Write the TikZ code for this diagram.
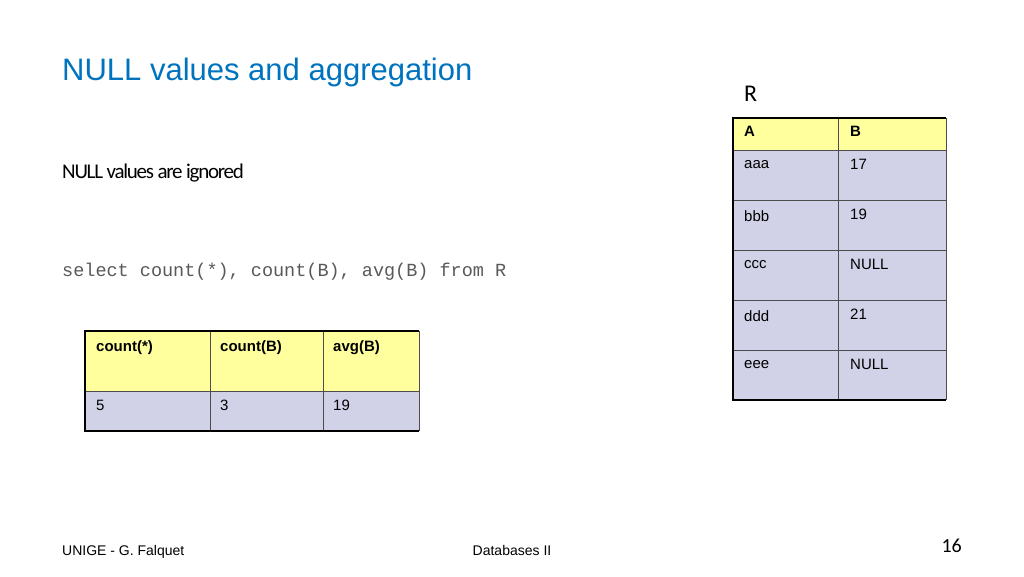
\documentclass[tikz,border=0pt]{standalone}
\usepackage{fontspec}
\setmainfont{Liberation Sans}
\newfontfamily\calfont{Carlito}
\newfontfamily\codefont{Liberation Mono}
\definecolor{TitleClr}{rgb}{0.0,0.45,0.75}
\definecolor{HeadClr}{rgb}{1,1,0.62}
\definecolor{BodyClr}{rgb}{0.82,0.82,0.91}
\definecolor{CodeClr}{rgb}{0.35,0.35,0.35}
\tikzset{
  cell/.style={anchor=north west,inner sep=0pt,font=\fontsize{15}{18}\selectfont},
  headcell/.style={cell,font=\fontsize{15}{18}\selectfont\bfseries},
  grid/.style={draw=black!70,line width=0.8pt},
  frame/.style={draw=black,line width=2pt}
}
\begin{document}
\begin{tikzpicture}[x=1pt,y=-1pt]
\useasboundingbox (0,0) rectangle (1024,576);

\node[anchor=base west,inner sep=0pt,text=TitleClr,font=\fontsize{31}{36}\selectfont] (title) at (62,80) {NULL values and aggregation};
\node[anchor=base west,inner sep=0pt,font=\calfont\fontsize{21}{24}\selectfont\addfontfeatures{LetterSpace=-6}] (txt) at (62,178) {NULL values are ignored};
\node[anchor=base west,inner sep=0pt,text=CodeClr,font=\codefont\fontsize{18.5}{22}\selectfont] (code) at (62,276) {select count(*), count(B), avg(B) from R};

% table R
\node[anchor=base west,inner sep=0pt,font=\calfont\fontsize{24}{28}\selectfont] (rname) at (744,101) {R};
\fill[HeadClr] (733,118) rectangle (946,150);
\fill[BodyClr] (733,150) rectangle (946,400);
\foreach \y in {150,200,250,300,350} \draw[grid] (733,\y) -- (946,\y);
\draw[grid] (838,118) -- (838,400);
\draw[frame] (946,118) -- (733,118) -- (733,400) -- (946,400);
\draw[grid] (946,118) -- (946,400);
\node[headcell] (ha) at (744,126) {A};
\node[headcell] (hb) at (850,126) {B};
\foreach \a/\b [count=\i from 0] in {aaa/17,bbb/19,ccc/NULL,ddd/21,eee/NULL}
{
  \node[cell] (ra\i) at (744,160+50*\i) {\a};
  \node[cell] (rb\i) at (850,159+50*\i) {\b};
}

% result
\fill[HeadClr] (85,331) rectangle (419,391);
\fill[BodyClr] (85,391) rectangle (419,431);
\draw[grid] (85,391) -- (419,391);
\foreach \x in {210,323} \draw[grid] (\x,331) -- (\x,431);
\draw[frame] (419,331) -- (85,331) -- (85,431) -- (419,431);
\draw[grid] (419,331) -- (419,431);
\foreach \h/\v/\x [count=\i] in {count(*)/5/96,count(B)/3/220,avg(B)/19/333}
{
  \node[headcell] (hr\i) at (\x,340) {\h};
  \node[cell] (vr\i) at (\x,400) {\v};
}

% footer
\node[anchor=base west,inner sep=0pt,font=\fontsize{14}{16}\selectfont] (foot) at (62,555) {UNIGE - G. Falquet};
\node[anchor=base,inner sep=0pt,font=\fontsize{14}{16}\selectfont] (course) at (512,555) {Databases II};
\node[anchor=base east,inner sep=0pt,font=\calfont\fontsize{20}{24}\selectfont] (page) at (962,552) {16};
\end{tikzpicture}
\end{document}
